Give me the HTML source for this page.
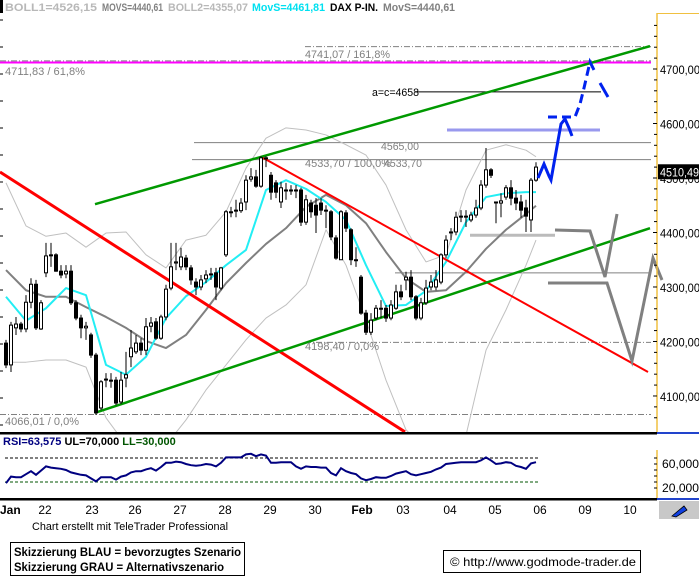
<!DOCTYPE html>
<html><head><meta charset="utf-8">
<style>
html,body{margin:0;padding:0;background:#fff;}
svg{display:block;font-family:"Liberation Sans",sans-serif;}
</style></head>
<body>
<svg id="chart" width="699" height="577" viewBox="0 0 699 577" xmlns="http://www.w3.org/2000/svg">
<defs><clipPath id="plotclip"><rect x="0" y="13" width="656" height="419"/></clipPath></defs>
<rect x="0" y="0" width="699" height="577" fill="#fff"/>
<rect x="0" y="0" width="3" height="13" fill="#000"/>
<g font-size="11" font-weight="bold">
<text x="5" y="11" fill="#b8b8b8" textLength="92" lengthAdjust="spacingAndGlyphs">BOLL1=4526,15</text>
<text x="102" y="11" fill="#808080" textLength="61" lengthAdjust="spacingAndGlyphs">MOVS=4440,61</text>
<text x="168" y="11" fill="#b8b8b8" textLength="80" lengthAdjust="spacingAndGlyphs">BOLL2=4355,07</text>
<text x="252" y="11" fill="#00e0f0" textLength="73" lengthAdjust="spacingAndGlyphs">MovS=4461,81</text>
<text x="330" y="11" fill="#000" textLength="48" lengthAdjust="spacingAndGlyphs">DAX P-IN.</text>
<text x="383" y="11" fill="#808080" textLength="72" lengthAdjust="spacingAndGlyphs">MovS=4440,61</text>
</g>
<g id="main" clip-path="url(#plotclip)"></g>
<g id="overlay"></g>
<g id="axes"></g>
<g id="rsi"></g>
<g>
<text x="32" y="530" font-size="11" fill="#000" textLength="196" lengthAdjust="spacingAndGlyphs">Chart erstellt mit TeleTrader Professional</text>
<rect x="10.5" y="542.5" width="234" height="33" fill="#fff" stroke="#000"/>
<text x="14" y="556" font-size="12" font-weight="bold" textLength="227" lengthAdjust="spacingAndGlyphs">Skizzierung BLAU = bevorzugtes Szenario</text>
<text x="14" y="571" font-size="12" font-weight="bold" textLength="210" lengthAdjust="spacingAndGlyphs">Skizzierung GRAU = Alternativszenario</text>
<rect x="443.5" y="550.5" width="197" height="22" fill="#fff" stroke="#000"/>
<text x="450" y="566" font-size="12" textLength="186" lengthAdjust="spacingAndGlyphs">© http://www.godmode-trader.de</text>
</g>
</svg>
<script>
const openP=[4197,4157,4225,4232,4223,4272,4305,4223,4326,4359,4359,4329,4324,4329,4271,4243,4225,4212,4175,4078,4131,4129,4129,4089,4133,4172,4181,4197,4184,4228,4236,4206,4245,4298,4344,4337,4353,4335,4309,4300,4315,4324,4326,4298,4359,4438,4440,4440,4456,4498,4502,4485,4537,4505,4491,4456,4478,4478,4478,4478,4419,4454,4450,4454,4441,4438,4390,4350,4436,4405,4350,4318,4252,4217,4243,4261,4261,4243,4261,4291,4313,4318,4282,4243,4271,4300,4300,4309,4359,4401,4401,4430,4430,4423,4432,4445,4487,4515,4456,4454,4465,4482,4463,4456,4445,4423,4496];
const highP=[4203,4236,4245,4236,4285,4316,4313,4276,4381,4381,4362,4340,4340,4340,4276,4249,4236,4216,4179,4129,4142,4142,4135,4144,4181,4221,4212,4206,4243,4245,4243,4249,4304,4381,4381,4372,4359,4340,4316,4322,4331,4335,4335,4337,4441,4447,4460,4463,4505,4518,4515,4540,4540,4511,4496,4493,4491,4487,4487,4482,4469,4460,4463,4463,4450,4441,4395,4441,4441,4408,4373,4322,4258,4252,4267,4276,4267,4276,4304,4304,4328,4331,4285,4280,4313,4322,4331,4362,4395,4408,4438,4441,4441,4438,4460,4496,4555,4518,4456,4472,4487,4496,4478,4469,4460,4500,4529];
const lowP=[4151,4144,4212,4217,4217,4261,4221,4221,4318,4337,4328,4316,4316,4267,4239,4206,4203,4170,4065,4074,4116,4115,4083,4085,4116,4153,4177,4175,4175,4217,4203,4203,4239,4294,4331,4331,4331,4304,4285,4294,4307,4313,4276,4294,4355,4428,4428,4436,4441,4493,4482,4482,4520,4460,4463,4445,4460,4469,4463,4412,4414,4427,4399,4432,4408,4386,4350,4350,4401,4340,4337,4249,4212,4212,4239,4243,4236,4239,4258,4276,4294,4276,4239,4239,4267,4294,4294,4305,4353,4386,4395,4419,4410,4419,4427,4441,4482,4500,4417,4428,4460,4450,4441,4427,4401,4401,4493];
const closeP=[4157,4230,4232,4223,4272,4305,4225,4271,4357,4359,4329,4322,4329,4271,4243,4225,4228,4175,4069,4126,4131,4129,4087,4129,4139,4188,4197,4184,4227,4234,4206,4245,4296,4337,4346,4355,4337,4313,4300,4313,4322,4324,4300,4335,4438,4438,4441,4454,4496,4502,4485,4537,4537,4474,4474,4482,4478,4478,4478,4419,4460,4438,4432,4441,4441,4392,4353,4438,4408,4350,4350,4252,4217,4239,4261,4261,4243,4267,4291,4282,4318,4282,4243,4271,4298,4309,4313,4359,4386,4401,4428,4430,4430,4432,4445,4487,4515,4505,4456,4458,4482,4463,4454,4441,4430,4496,4520];
const maIdx=[0,4,8,12,16,20,24,28,32,36,40,44,48,52,56,60,64,68,72,76,80,84,88,92,96,100,104,106];
const maShort=[4282,4238,4261,4298,4285,4157,4139,4172,4243,4283,4309,4340,4368,4478,4496,4480,4456,4423,4340,4265,4267,4293,4346,4419,4465,4472,4474,4474];
const maLong=[4331,4294,4282,4282,4263,4245,4225,4201,4188,4212,4258,4307,4344,4379,4408,4447,4469,4450,4417,4364,4316,4291,4294,4328,4370,4405,4434,4449];
const bollUpper=[4491,4412,4393,4399,4373,4399,4401,4359,4335,4386,4395,4438,4518,4573,4592,4588,4579,4561,4542,4487,4405,4346,4359,4478,4551,4561,4551,4539];
const bollLower=[4162,4162,4166,4166,4153,4060,4010,4001,4010,4056,4111,4157,4203,4243,4267,4304,4405,4340,4239,4129,4038,4001,4001,4028,4184,4258,4340,4386];
const rsiValues=[28,39,38,38,43,48,42,49,56,54,53,52,50,46,44,42,41,36,31,38,38,38,34,39,41,46,48,48,51,53,49,55,62,62,64,63,60,58,57,58,60,59,56,62,71,71,71,71,76,77,73,76,74,62,62,63,63,63,56,52,56,55,55,54,54,45,41,53,48,45,43,36,33,35,38,37,37,40,44,46,48,43,41,43,45,47,51,54,60,61,62,63,63,63,63,66,71,66,60,61,63,62,57,55,52,61,63];
const priceTicks=[4700,4600,4500,4400,4300,4200,4100];
const priceTickLabels=["4700,00","4600,00","4500,00","4400,00","4300,00","4200,00","4100,00"];
const rsiTicks=[60,20];
const rsiTickLabels=["60,000","20,000"];
const dateLabels=["Jan","22","23","26","27","28","29","30","Feb","03","04","05","06","09","10"];
const dateIdx=[0.4,7.8,17.2,25.8,34.8,43.8,52.8,61.8,71.2,79.4,88.8,97.8,106.8,115.8,124.8];
const lastPrice=4510.49;
const redMain=[-1.2,4511,79.8,4034];
const redSecond=[51.2,4538,128.4,4144];
const greenUpper=[17.8,4452,128.8,4742];
const greenLower=[17.8,4069,128.8,4408];

const NS="http://www.w3.org/2000/svg";
const X=i=>6+5*i;
const Y=p=>69+(4700-p)/1.835;
const RY=v=>458+(70-v)*0.6;
function mk(tag,attrs,parent,text){const e=document.createElementNS(NS,tag);for(const k in attrs)e.setAttribute(k,attrs[k]);if(text!==undefined)e.textContent=text;parent.appendChild(e);return e;}
const main=document.getElementById('main'),ov=document.getElementById('overlay'),ax=document.getElementById('axes'),rsi=document.getElementById('rsi');

function line(arr,color,w,name,parent){const l=mk('line',{x1:X(arr[0]),y1:Y(arr[1]),x2:X(arr[2]),y2:Y(arr[3]),stroke:color,'stroke-width':w},parent||main);

return l;}
function hline(price,i0,i1,color,w,dash,name){const l=mk('line',{x1:X(i0),y1:Y(price),x2:X(i1),y2:Y(price),stroke:color,'stroke-width':w},main);if(dash)l.setAttribute('stroke-dasharray',dash);

}
function series(vals,color,w,name){const pts=maIdx.map((ix,k)=>X(ix)+','+Y(vals[k])).join(' ');const p=mk('polyline',{points:pts,fill:'none',stroke:color,'stroke-width':w,'stroke-linejoin':'round'},main);

}

hline(4741.07,59.8,129,'#808080',1,'6,2,1,2','fib-161-line');
hline(4711.83,-1.2,129,'#ff00ff',2,null,'fib-61-line');
hline(4715,-1.2,129,'#808080',1,'6,2,1,2','fib-61-dash');
hline(4658,81.8,119,'#000',1,null,'target-ac-line');
hline(4565,37.6,129,'#808080',1,null,'level-4565');
hline(4533.7,37.2,129,'#808080',1,null,'level-4533');
hline(4326,77.8,129,'#808080',1,null,'level-4326');
hline(4198.4,59.8,129,'#808080',1,'6,2,1,2','fib-0-line-4198');
hline(4066.01,-1.2,129,'#808080',1,'6,2,1,2','fib-0-line-4066');
hline(4588,88.2,118.8,'#9999ee',3,null,'target-zone-blue');
hline(4395,92.8,109.8,'#bbbbbb',3,null,'support-zone-gray');

series(bollUpper,'#c0c0c0',1,'bollinger-upper');
series(bollLower,'#c0c0c0',1,'bollinger-lower');
series(maLong,'#808080',2,'moving-average-long');
series(maShort,'#22eef4',2,'moving-average-short');

line(redMain,'#ff0000',3,'downtrend-line-main');
line(redSecond,'#ff0000',2,'downtrend-line-second');
line(greenUpper,'#009900',2.5,'uptrend-channel-upper');
line(greenLower,'#009900',2.5,'uptrend-channel-lower');

for(let i=0;i<openP.length;i++){
  const x=X(i),o=openP[i],c=closeP[i];
  const w=mk('line',{x1:x,y1:Y(highP[i]),x2:x,y2:Y(lowP[i]),stroke:'#000','stroke-width':1},main);
  
  
  const top=Y(Math.max(o,c)),bot=Y(Math.min(o,c));
  const b=mk('rect',{x:x-1.5,y:top,width:3,height:Math.max(1,bot-top),fill:c>=o?'#fff':'#000',stroke:'#000','stroke-width':1},main);
  
  
}

const blue=mk('polyline',{points:"538,178 544,164 549,176 551,180 556,152 561,124 565,119 569,128 572,136",fill:'none',stroke:'#0022ee','stroke-width':3},ov);


const blue2=mk('polyline',{points:"548,117 575,117 580,104 584,88 590,62 596,74",fill:'none',stroke:'#0022ee','stroke-width':3,'stroke-dasharray':'9,5'},ov);


const blue3=mk('line',{x1:600,y1:83,x2:608,y2:97,stroke:'#0022ee','stroke-width':3},ov);


const g1=mk('polyline',{points:"555,230 590,231 605,277 617,214",fill:'none',stroke:'#808080','stroke-width':3},ov);


const g2=mk('polyline',{points:"548,283 607,283 632,361 653,258 662,280",fill:'none',stroke:'#808080','stroke-width':3},ov);



function lbl(x,y,t,color,name,len){const e=mk('text',{x:x,y:y,'font-size':11,fill:color},ov,t);if(len){e.setAttribute('textLength',len);e.setAttribute('lengthAdjust','spacingAndGlyphs');}

}
lbl(305,58,'4741,07 / 161,8%','#808080','label-4741',85);
lbl(5,75,'4711,83 / 61,8%','#808080','label-4711',80);
lbl(372,96,'a=c=4658','#000','label-ac',47);
lbl(381,150,'4565,00','#808080','label-4565',38);
lbl(305,167,'4533,70 / 100,0%','#808080','label-4533-fib',86);
lbl(384,167,'4533,70','#808080','label-4533',38);
lbl(305,350,'4198,40 / 0,0%','#808080','label-4198',74);
lbl(5,425,'4066,01 / 0,0%','#808080','label-4066',74);

const ra=mk('line',{x1:657,y1:13,x2:657,y2:432,stroke:'#f0c040','stroke-width':1.5},ax);


const rt=mk('line',{x1:657,y1:13.5,x2:699,y2:13.5,stroke:'#f0c040','stroke-width':1},ax);


for(let p=4060;p<=4780;p+=20){const yy=Y(p);if(yy<14||yy>431)continue;const t=mk('line',{x1:(p%100===0)?653:654,y1:yy,x2:657,y2:yy,stroke:'#000','stroke-width':1},ax);

}
priceTicks.forEach((p,k)=>{const e=mk('text',{x:660,y:Y(p)+5,'font-size':12,fill:'#000',textLength:40,lengthAdjust:'spacingAndGlyphs'},ax,priceTickLabels[k]);

});
const lb=mk('rect',{x:658,y:Y(lastPrice)-8,width:41,height:15,fill:'#000'},ax);


const lt=mk('text',{x:660,y:Y(lastPrice)+4,'font-size':12,fill:'#fff',textLength:39,lengthAdjust:'spacingAndGlyphs'},ax,String(lastPrice).replace('.',','));


for(let yy=20;yy<432;yy+=27){const t=mk('line',{x1:0,y1:yy,x2:3,y2:yy,stroke:'#000'},ax);

}
const sep=mk('rect',{x:0,y:432,width:657,height:2.5,fill:'#000'},ax);


const sepb=mk('rect',{x:657,y:432,width:42,height:2,fill:'#2244cc'},ax);



const rh=mk('text',{x:3,y:445,'font-size':11,'font-weight':'bold'},rsi);


mk('tspan',{fill:'#000080'},rh,'RSI=63,575 ');
mk('tspan',{fill:'#000'},rh,'UL=70,000 ');
mk('tspan',{fill:'#005500'},rh,'LL=30,000');
const ul=mk('line',{x1:5,y1:RY(70),x2:538,y2:RY(70),stroke:'#000','stroke-dasharray':'3,2'},rsi);


const ll=mk('line',{x1:5,y1:RY(30),x2:538,y2:RY(30),stroke:'#005500','stroke-dasharray':'3,2'},rsi);


const rp=mk('polyline',{points:rsiValues.map((v,i)=>X(i)+','+RY(v)).join(' '),fill:'none',stroke:'#000080','stroke-width':2},rsi);


const rax=mk('line',{x1:657,y1:450,x2:657,y2:498,stroke:'#f0c040','stroke-width':1.5},rsi);


for(let v=20;v<=70;v+=10){const t=mk('line',{x1:654,y1:RY(v),x2:657,y2:RY(v),stroke:'#000'},rsi);

}
rsiTicks.forEach((v,k)=>{const e=mk('text',{x:662,y:RY(v)+4,'font-size':12,fill:'#000',textLength:37,lengthAdjust:'spacingAndGlyphs'},rsi,rsiTickLabels[k]);

});
const bs=mk('rect',{x:0,y:498,width:657,height:2.5,fill:'#000'},rsi);


const bsb=mk('rect',{x:657,y:498,width:42,height:2,fill:'#2244cc'},rsi);


const ib=mk('rect',{x:659,y:501,width:40,height:18,fill:'#c8c8c8'},rsi);


const ic=mk('path',{d:"M672,516 L684,506 L687,510 L676,517 Z",fill:'#1040e0',stroke:'#000','stroke-width':0.8},rsi);


dateLabels.forEach((t,k)=>{const bold=(t==='Jan'||t==='Feb');const e=mk('text',{x:X(dateIdx[k]),y:514,'font-size':12,'font-weight':bold?'bold':'normal','text-anchor':t==='Jan'?'start':'middle',fill:'#000'},rsi,t);
if(t==='Jan')e.setAttribute('x',0);

});
</script>
</body></html>
